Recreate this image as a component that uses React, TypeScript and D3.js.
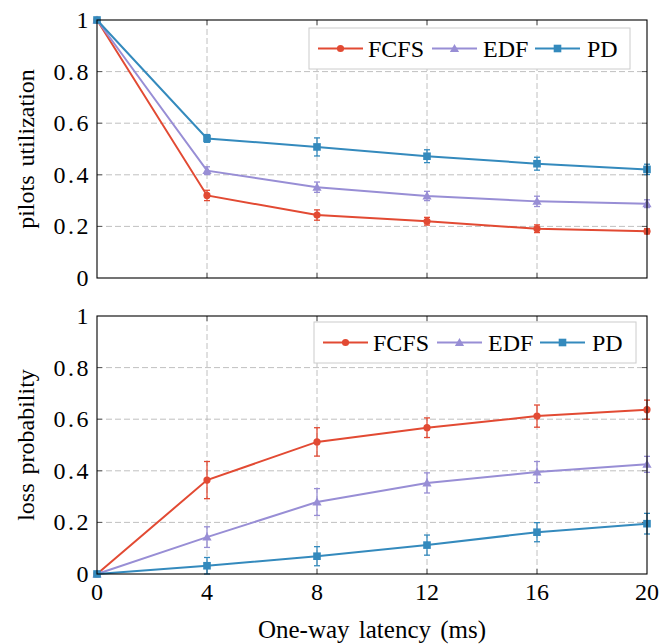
import { useEffect, useRef } from "react";
import * as d3 from "d3";

// x values (one-way latency, ms)
const latency = [0, 4, 8, 12, 16, 20];
const xTicks = [0, 4, 8, 12, 16, 20];
const yTicks = [0, 0.2, 0.4, 0.6, 0.8, 1];

const seriesNames = ["FCFS", "EDF", "PD"];
const seriesColors = ["#E24A33", "#988ED5", "#348ABD"];
const seriesMarkers = ["circle", "triangle", "square"];

// top panel: pilots utilization
const utilFCFS = [1, 0.32, 0.244, 0.22, 0.191, 0.181];
const utilEDF = [1, 0.416, 0.352, 0.318, 0.297, 0.288];
const utilPD = [1, 0.541, 0.508, 0.472, 0.443, 0.421];
const utilErrFCFS = [0, 0.02, 0.02, 0.015, 0.015, 0.01];
const utilErrEDF = [0, 0.015, 0.02, 0.018, 0.02, 0.015];
const utilErrPD = [0, 0.015, 0.035, 0.025, 0.025, 0.02];

// bottom panel: loss probability
const lossFCFS = [0, 0.364, 0.512, 0.567, 0.612, 0.637];
const lossEDF = [0, 0.143, 0.279, 0.353, 0.395, 0.425];
const lossPD = [0, 0.032, 0.069, 0.112, 0.162, 0.195];
const lossErrFCFS = [0, 0.072, 0.055, 0.038, 0.043, 0.037];
const lossErrEDF = [0, 0.04, 0.052, 0.039, 0.041, 0.031];
const lossErrPD = [0, 0.032, 0.037, 0.039, 0.037, 0.04];

const FONT = "Liberation Serif, Times New Roman, serif";

export default function App() {
  const svgRef = useRef<SVGSVGElement>(null);

  useEffect(() => {
    const svg = d3.select(svgRef.current);
    svg.selectAll("*").remove();

    const left = 97;
    const right = 647;
    const x = d3.scaleLinear().domain([0, 20]).range([left, right]);

    const panels = [
      {
        top: 20, bottom: 278, label: "pilots utilization",
        values: [utilFCFS, utilEDF, utilPD],
        errs: [utilErrFCFS, utilErrEDF, utilErrPD],
        legend: { x: 309, y: 28, w: 321, h: 41 },
        showX: false,
      },
      {
        top: 316, bottom: 574, label: "loss probability",
        values: [lossFCFS, lossEDF, lossPD],
        errs: [lossErrFCFS, lossErrEDF, lossErrPD],
        legend: { x: 314, y: 322, w: 322, h: 41 },
        showX: true,
      },
    ];

    const drawMarker = (g: any, kind: string, cx: number, cy: number, color: string) => {
      if (kind === "circle") {
        g.append("circle").attr("cx", cx).attr("cy", cy).attr("r", 3.6).attr("fill", color);
      } else if (kind === "triangle") {
        const s = 4.6;
        g.append("path")
          .attr("d", `M${cx},${cy - s} L${cx + s},${cy + s * 0.75} L${cx - s},${cy + s * 0.75} Z`)
          .attr("fill", color);
      } else {
        g.append("rect").attr("x", cx - 3.8).attr("y", cy - 3.8).attr("width", 7.6).attr("height", 7.6).attr("fill", color);
      }
    };

    panels.forEach((p) => {
      const y = d3.scaleLinear().domain([0, 1]).range([p.bottom, p.top]);
      const g = svg.append("g");

      // grid
      g.selectAll(".gx")
        .data(xTicks.slice(1, -1))
        .join("line")
        .attr("x1", (d) => x(d)).attr("x2", (d) => x(d))
        .attr("y1", p.top).attr("y2", p.bottom)
        .attr("stroke", "#b0b0b0").attr("stroke-width", 0.8).attr("stroke-dasharray", "6,3");
      g.selectAll(".gy")
        .data(yTicks.slice(1, -1))
        .join("line")
        .attr("x1", left).attr("x2", right)
        .attr("y1", (d) => y(d)).attr("y2", (d) => y(d))
        .attr("stroke", "#b0b0b0").attr("stroke-width", 0.8).attr("stroke-dasharray", "6,3");

      // inner ticks
      yTicks.slice(1, -1).forEach((t) => {
        g.append("line").attr("x1", left).attr("x2", left + 5).attr("y1", y(t)).attr("y2", y(t)).attr("stroke", "#555");
        g.append("line").attr("x1", right - 5).attr("x2", right).attr("y1", y(t)).attr("y2", y(t)).attr("stroke", "#555");
      });
      xTicks.slice(1, -1).forEach((t) => {
        g.append("line").attr("x1", x(t)).attr("x2", x(t)).attr("y1", p.bottom - 5).attr("y2", p.bottom).attr("stroke", "#555");
        g.append("line").attr("x1", x(t)).attr("x2", x(t)).attr("y1", p.top).attr("y2", p.top + 5).attr("stroke", "#555");
      });

      // y tick labels
      g.selectAll(".yl")
        .data(yTicks)
        .join("text")
        .attr("x", left - 6)
        .attr("y", (d) => y(d) + 8)
        .attr("text-anchor", "end")
        .style("font-family", FONT)
        .style("font-size", "24px")
        .style("letter-spacing", "2.5px")
        .text((d) => (d === 0 || d === 1 ? String(d) : d.toFixed(1)));

      if (p.showX) {
        g.selectAll(".xl")
          .data(xTicks)
          .join("text")
          .attr("x", (d) => x(d))
          .attr("y", p.bottom + 26)
          .attr("text-anchor", "middle")
          .style("font-family", FONT)
          .style("font-size", "24px")
          .text((d) => d);
      }

      // y axis label
      g.append("text")
        .attr("transform", `translate(34,${(p.top + p.bottom) / 2}) rotate(-90)`)
        .attr("text-anchor", "middle")
        .style("font-family", FONT)
        .style("font-size", "24px")
        .style("word-spacing", "3px")
        .text(p.label);

      // series
      p.values.forEach((vals, si) => {
        const color = seriesColors[si];
        const pts = latency.map((lx, i) => ({ x: lx, y: vals[i], e: p.errs[si][i] }));
        const sg = g.append("g");
        pts.forEach((d) => {
          if (d.e <= 0) return;
          sg.append("line")
            .attr("x1", x(d.x)).attr("x2", x(d.x))
            .attr("y1", y(d.y - d.e)).attr("y2", y(d.y + d.e))
            .attr("stroke", color).attr("stroke-width", 1.3);
          [d.y - d.e, d.y + d.e].forEach((v) => {
            sg.append("line")
              .attr("x1", x(d.x) - 3).attr("x2", x(d.x) + 3)
              .attr("y1", y(v)).attr("y2", y(v))
              .attr("stroke", color).attr("stroke-width", 1.3);
          });
        });
        sg.append("path")
          .datum(pts)
          .attr("fill", "none")
          .attr("stroke", color)
          .attr("stroke-width", 2)
          .attr("d", d3.line<any>().x((d) => x(d.x)).y((d) => y(d.y)));
        pts.forEach((d) => drawMarker(sg, seriesMarkers[si], x(d.x), y(d.y), color));
      });

      // frame
      g.append("rect")
        .attr("x", left).attr("y", p.top)
        .attr("width", right - left).attr("height", p.bottom - p.top)
        .attr("fill", "none").attr("stroke", "#000").attr("stroke-width", 1.1);

      // legend
      const L = p.legend;
      const lg = g.append("g");
      lg.append("rect")
        .attr("x", L.x).attr("y", L.y).attr("width", L.w).attr("height", L.h)
        .attr("fill", "#fff").attr("stroke", "#cccccc").attr("stroke-width", 1);
      const offsets = [9, 123, 226];
      const textOffsets = [59, 174, 278];
      seriesNames.forEach((name, si) => {
        const cy = L.y + L.h / 2;
        const lx0 = L.x + offsets[si];
        lg.append("line")
          .attr("x1", lx0).attr("x2", lx0 + 45)
          .attr("y1", cy).attr("y2", cy)
          .attr("stroke", seriesColors[si]).attr("stroke-width", 2);
        drawMarker(lg, seriesMarkers[si], lx0 + 22.5, cy, seriesColors[si]);
        lg.append("text")
          .attr("x", L.x + textOffsets[si])
          .attr("y", cy + 8)
          .style("font-family", FONT)
          .style("font-size", "24px")
          .text(name);
      });
    });

    // x axis label
    svg.append("text")
      .attr("x", (left + right) / 2)
      .attr("y", 638)
      .attr("text-anchor", "middle")
      .style("font-family", FONT)
      .style("font-size", "25px")
      .style("word-spacing", "3px")
      .text("One-way latency (ms)");
  }, []);

  return (
    <svg
      ref={svgRef}
      width={661}
      height={644}
      style={{ position: "absolute", left: 0, top: 0, background: "#fff" }}
    />
  );
}
